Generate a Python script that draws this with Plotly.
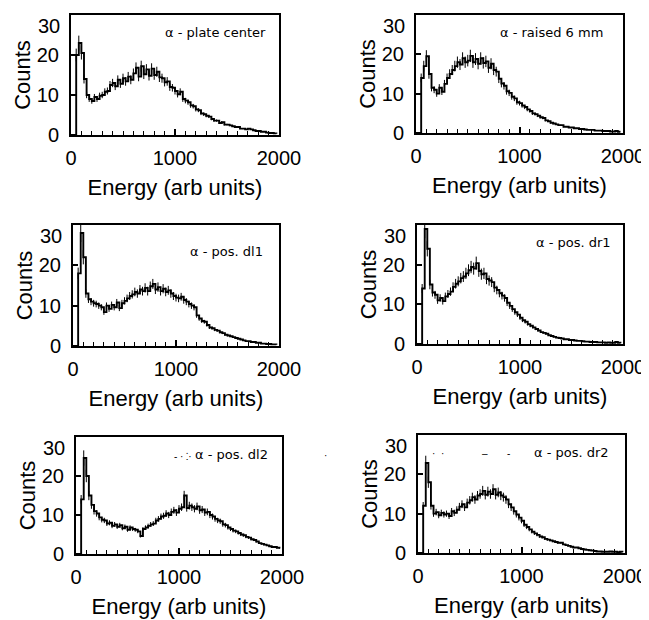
import plotly.graph_objects as go

# bin start energies (arb units), 25-unit bins
energy = list(range(0, 2000, 25))

labels = ["α - plate center", "α - raised 6 mm", "α - pos. dl1",
          "α - pos. dr1", "α - pos. dl2", "α - pos. dr2"]

plate_center = [0, 0, 20, 23, 20.5, 14, 10, 9,
                8.5, 9.5, 9, 9.8, 10, 10.8, 11, 12.5,
                13, 12.2, 13.8, 12.8, 14.2, 13.4, 14.6, 13.8,
                15.4, 16.8, 14.6, 17.2, 15.2, 16.4, 14.8, 16.6,
                15, 15.8, 14.4, 14.2, 13.2, 13.4, 12, 11.8,
                11, 10.2, 10.8, 9, 8.6, 8.2, 7.4, 7.2,
                6.4, 6.2, 5.4, 5.2, 4.8, 4.6, 4, 3.6,
                3.6, 3, 3.2, 2.6, 2.6, 2.4, 2.2, 2,
                2, 1.6, 1.6, 1.4, 1.6, 1.4, 1.2, 1,
                1, 0.8, 0.8, 0.6, 0.5, 0.5, 0.4, 0.3]

raised_6mm = [0, 0, 14, 17, 19.5, 15, 11.5, 11,
              10, 11.5, 10.5, 12.5, 14, 15, 16, 17,
              18, 17.4, 19, 18, 18.4, 19.6, 18, 18.8,
              17.6, 19, 17.8, 18.2, 16.6, 17.6, 16, 15.6,
              13.8, 12.6, 12, 10.6, 10.2, 9.2, 8.8, 7.8,
              7.6, 7, 6.6, 6, 5.6, 5, 4.8, 4.4,
              4, 3.8, 3.2, 3, 2.6, 2.4, 2.2, 2,
              2, 1.6, 1.6, 1.4, 1.4, 1.2, 1.2, 1,
              1, 0.9, 0.8, 0.8, 0.8, 0.6, 0.6, 0.6,
              0.5, 0.5, 0.5, 0.4, 0.4, 0.5, 0.3, 0.3]

pos_dl1 = [0, 0, 18, 28, 22, 13, 11.6, 11,
           10.6, 10.4, 10, 9.6, 8.4, 10, 9.2, 10.2,
           9.6, 10.8, 9.4, 10.6, 11.2, 11.8, 12.4, 12.8,
           13.4, 13, 14, 13.6, 14.4, 13.6, 14.8, 15.4,
           14, 14.6, 13.6, 14.2, 13.4, 13.8, 13, 12.4,
           12, 11.8, 12.2, 11.4, 11, 10.4, 10, 9.6,
           7.6, 6.8, 6.2, 6, 5.2, 4.6, 4.4, 4,
           3.8, 3.4, 3.2, 2.8, 2.6, 2.4, 2.2, 2,
           1.8, 1.6, 1.4, 1.2, 1.2, 1, 1, 0.8,
           0.8, 0.6, 0.6, 0.5, 0.5, 0.4, 0.4, 0.3]

pos_dr1 = [0, 0, 14, 29, 24, 15, 13, 12.4,
           11, 11.6, 10.8, 12, 12.6, 13.2, 14.4, 15.2,
           15.8, 16.6, 17, 17.8, 18.6, 19.4, 19, 20.4,
           18.4, 17.6, 17.8, 16.4, 16, 15.6, 14.2, 13.6,
           12.8, 12.2, 11.6, 10.4, 9.6, 8.8, 8, 7.4,
           6.6, 6, 5.6, 5, 4.6, 4.2, 3.8, 3.4,
           3, 2.8, 2.6, 2.2, 2, 1.8, 1.6, 1.5,
           1.4, 1.2, 1.2, 1, 1, 0.9, 0.8, 0.8,
           0.7, 0.6, 0.6, 0.5, 0.5, 0.5, 0.4, 0.4,
           0.4, 0.3, 0.4, 0.3, 0.3, 0.5, 0.3, 0.2]

pos_dl2 = [0, 0, 14, 24.6, 20, 15, 12.6, 11,
           10.4, 9.4, 8.8, 8.6, 7.8, 8, 7.2, 7.6,
           7, 7.4, 6.6, 7, 6.2, 6.8, 6.4, 6.2,
           5.8, 4.6, 6.4, 6.8, 7.2, 7.6, 7.8, 8.6,
           9, 9.6, 9.8, 10.4, 10, 10.8, 11.2, 10.6,
           11.6, 12, 15, 11.8, 12.4, 12, 11.6, 12.2,
           11.2, 11.4, 10.6, 10.8, 10, 9.6, 9, 8.6,
           8.4, 7.6, 7.4, 6.8, 6.4, 6, 5.8, 5.4,
           5, 4.8, 4.4, 4.2, 3.8, 3.6, 3.2, 2.8,
           2.6, 2.4, 2.2, 2, 1.8, 1.8, 1.6, 1.4]

pos_dr2 = [0, 0, 12, 22.9, 18, 12, 10, 10.4,
           9.6, 10.2, 9.8, 10, 9.4, 10.6, 10.2, 11,
           11.8, 12.4, 11.6, 12.8, 13.4, 14.2, 13.6, 14.6,
           15, 15.8, 14.8, 15.6, 15, 16.2, 14.8, 15.4,
           14.6, 14.2, 13.6, 12.4, 11.6, 10.6, 9.8, 9,
           8.2, 7.2, 6.6, 6, 5.4, 5, 4.6, 4.2,
           4, 3.6, 3.4, 3.2, 3, 2.8, 2.6, 2.6,
           2.2, 2, 1.8, 1.6, 1.4, 1.4, 1.2, 1,
           0.9, 0.8, 0.7, 0.6, 0.5, 0.4, 0.4, 0.3,
           0.3, 0.3, 0.4, 0.3, 0.3, 0.2, 0.3, 0.2]

series = [plate_center, raised_6mm, pos_dl1, pos_dr1, pos_dl2, pos_dr2]

x_ticks = [0, 1000, 2000]
y_ticks = [0, 10, 20, 30]
y_ticktext = ["0", "10", "20", ""]   # the top label "30" is set just below the frame
y_top_label = "30"

# the page body adds an 8 px offset, so the figure is drawn 8 px smaller
OFF = 8
W, H = 649 - OFF, 620 - OFF
# panel boxes in window pixels: (left, right, top, bottom)
boxes = [(71, 279, 15, 135), (416, 623, 15, 133),
         (73, 279, 225, 346), (417, 623, 225, 344),
         (76, 282, 437, 554), (418, 625, 435, 553)]
label_pos = [(0.947, 0.85), (0.913, 0.85), (0.93, 0.78),
             (0.95, 0.85), (0.94, 0.85), (0.93, 0.85)]
# small specks printed near the bottom-row labels in the scan (window px)
specks = [("- · ⁚·", 183, 457), ("·", 325, 455), ("·  ·", 438, 453),
          ("–", 485, 453), ("-", 508, 453)]

FONT = "Liberation Sans, Arial, Helvetica, sans-serif"

fig = go.Figure()
layout = dict(width=W, height=H,
              margin=dict(l=0, r=0, t=0, b=0, pad=0, autoexpand=False),
              paper_bgcolor="white", plot_bgcolor="white", showlegend=False,
              font=dict(family=FONT, color="black"))
annotations = []

for i, ys in enumerate(series):
    k = "" if i == 0 else str(i + 1)
    fig.add_trace(go.Scatter(
        x=energy, y=ys, mode="lines", line=dict(color="black", width=1.9, shape="hv"),
        error_y=dict(type="percent", value=8, color="black", thickness=1, width=0),
        xaxis="x" + k, yaxis="y" + k, hoverinfo="skip"))
    l, r, t, b = boxes[i]
    l, r, t, b = l - OFF, r - OFF, t - OFF, b - OFF
    layout["xaxis" + k] = dict(
        domain=[l / W, r / W], range=[0, 2000], anchor="y" + k, automargin=False,
        tickvals=x_ticks, ticks="inside", ticklen=6, tickwidth=1.5, tickcolor="black",
        minor=dict(dtick=100, ticks="inside", ticklen=4, tickwidth=1.2, tickcolor="black"),
        showline=True, linecolor="black", linewidth=2, mirror=True,
        showgrid=False, zeroline=False, ticklabeloverflow="allow",
        tickfont=dict(size=20, family=FONT, color="black"),
        ticklabelstandoff=4,
        title=dict(text="Energy (arb units)", font=dict(size=22, family=FONT, color="black"),
                   standoff=12))
    layout["yaxis" + k] = dict(
        domain=[1 - b / H, 1 - t / H], range=[0, 30], anchor="x" + k, automargin=False,
        tickvals=y_ticks, ticktext=y_ticktext,
        ticks="inside", ticklen=5, tickwidth=1.5, tickcolor="black",
        showline=True, linecolor="black", linewidth=2, mirror=True,
        showgrid=False, zeroline=False, ticklabeloverflow="allow",
        tickfont=dict(size=20, family=FONT, color="black"),
        ticklabelstandoff=6,
        title=dict(text="Counts", font=dict(size=22, family=FONT, color="black"),
                   standoff=0))
    # top tick label, pushed just inside the figure like in the print
    annotations.append(dict(
        text=y_top_label, xref="x" + k + " domain", yref="y" + k + " domain",
        x=0, y=1, xanchor="right", yanchor="top", xshift=-9, yshift=2,
        showarrow=False, font=dict(size=20, family=FONT, color="black")))
    lx, ly = label_pos[i]
    annotations.append(dict(
        text=labels[i], xref="x" + k + " domain", yref="y" + k + " domain",
        x=lx, y=ly, xanchor="right", yanchor="middle", showarrow=False,
        font=dict(size=13, family="DejaVu Sans, Arial, sans-serif", color="black")))

for txt, px, py in specks:
    annotations.append(dict(
        text=txt, xref="paper", yref="paper", x=(px - OFF) / W, y=1 - (py - OFF) / H,
        xanchor="center", yanchor="middle", showarrow=False,
        font=dict(size=10, family=FONT, color="black")))

layout["annotations"] = annotations
fig.update_layout(**layout)
fig.write_html("out.html")
